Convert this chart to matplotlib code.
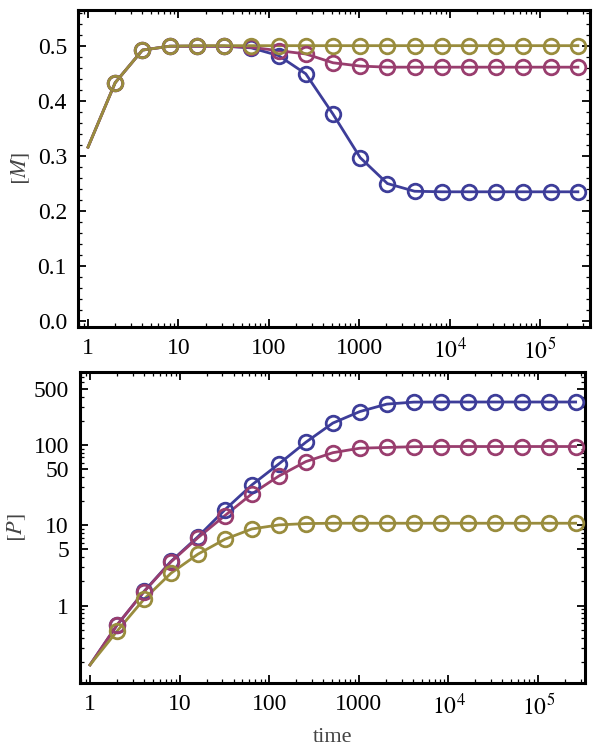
import matplotlib.pyplot as plt
import matplotlib.ticker as mticker
import numpy as np

plt.rcParams['font.family'] = ['Liberation Serif', 'DejaVu Serif']
plt.rcParams['mathtext.fontset'] = 'stix'

# sample times: t = 1 (curve start) then 2^1 .. 2^18 (markers)
t_all = [1, 2, 4, 8, 16, 32, 64, 128, 256, 512, 1024, 2048, 4096, 8192,
         16384, 32768, 65536, 131072, 262144]

# [M] values
M_blue = [0.316, 0.433, 0.492, 0.499, 0.499, 0.499, 0.496, 0.482, 0.449, 0.376,
          0.297, 0.250, 0.236, 0.235, 0.235, 0.235, 0.235, 0.235, 0.235]
M_mag = [0.316, 0.433, 0.492, 0.499, 0.499, 0.499, 0.497, 0.491, 0.485, 0.469,
         0.463, 0.461, 0.461, 0.461, 0.461, 0.461, 0.461, 0.461, 0.461]
M_olive = [0.316, 0.433, 0.492, 0.499, 0.500, 0.500, 0.500, 0.500, 0.500, 0.500,
           0.500, 0.500, 0.500, 0.500, 0.500, 0.500, 0.500, 0.500, 0.500]

# [P] values
P_blue = [0.183, 0.57, 1.5, 3.55, 7.2, 15.6, 31.8, 58, 108, 187,
          260, 322, 341, 342, 342, 342, 342, 342, 342]
P_mag = [0.183, 0.575, 1.49, 3.5, 7.0, 13.2, 24.6, 41, 62, 80,
         91, 93, 95, 95.5, 95.5, 95.5, 95.5, 95.5, 95.5]
P_olive = [0.183, 0.48, 1.2, 2.53, 4.37, 6.7, 9.0, 10.1, 10.5, 10.6,
           10.6, 10.6, 10.6, 10.6, 10.6, 10.6, 10.6, 10.6, 10.6]

x_ticks = [1, 10, 100, 1000, 1e4, 1e5]
x_labels = ['1', '10', '100', '1000', r'$10^4$', r'$10^5$']

colors = {'blue': (0.24, 0.24, 0.6), 'mag': (0.6, 0.24, 0.43), 'olive': (0.6, 0.55, 0.24)}

fig = plt.figure(figsize=(6, 7.55), dpi=100)
ax1 = fig.add_axes([0.13, 0.567, 0.853, 0.42])
ax2 = fig.add_axes([0.1333, 0.0954, 0.842, 0.412])


def draw(ax, series):
    for vals, c in series:
        ax.plot(t_all, vals, color=c, lw=2.0, zorder=2)
        ax.plot(t_all[1:], vals[1:], ls='none', marker='o', ms=10.5, mfc='none',
                mec=c, mew=2.0, zorder=3)


draw(ax1, [(M_blue, colors['blue']), (M_mag, colors['mag']), (M_olive, colors['olive'])])
draw(ax2, [(P_blue, colors['blue']), (P_mag, colors['mag']), (P_olive, colors['olive'])])

for ax in (ax1, ax2):
    ax.set_xscale('log')
    ax.set_xticks(x_ticks)
    ax.set_xticklabels(x_labels)
    ax.xaxis.set_minor_locator(mticker.LogLocator(base=10, subs=np.arange(2, 10), numticks=20))
    ax.xaxis.set_minor_formatter(mticker.NullFormatter())
    ax.tick_params(which='both', direction='in', top=True, right=True, labelsize=17, pad=8)
    ax.tick_params(which='major', length=6, width=1.3)
    ax.tick_params(which='minor', length=3, width=0.9)
    for s in ax.spines.values():
        s.set_linewidth(2.2)

ax1.set_xlim(0.775, 3.55e5)
ax1.set_ylim(-0.01, 0.565)
ax1.set_yticks([0.0, 0.1, 0.2, 0.3, 0.4, 0.5])
ax1.set_yticklabels(['0.0', '0.1', '0.2', '0.3', '0.4', '0.5'])
ax1.yaxis.set_minor_locator(mticker.MultipleLocator(0.02))
ax1.set_ylabel(r'$[M]$', fontsize=16, labelpad=4, color='#444444')

ax2.set_xlim(0.773, 3.35e5)
ax2.set_yscale('log')
ax2.set_ylim(0.109, 810)
ax2.set_yticks([1, 5, 10, 50, 100, 500])
ax2.set_yticklabels(['1', '5', '10', '50', '100', '500'])
ax2.yaxis.set_minor_locator(mticker.LogLocator(base=10, subs=np.arange(2, 10), numticks=20))
ax2.yaxis.set_minor_formatter(mticker.NullFormatter())
ax2.set_ylabel(r'$[P]$', fontsize=16, labelpad=4, color='#444444')
ax2.set_xlabel('time', fontsize=16, labelpad=6, color='#444444')

fig.savefig('out.png', dpi=100)
